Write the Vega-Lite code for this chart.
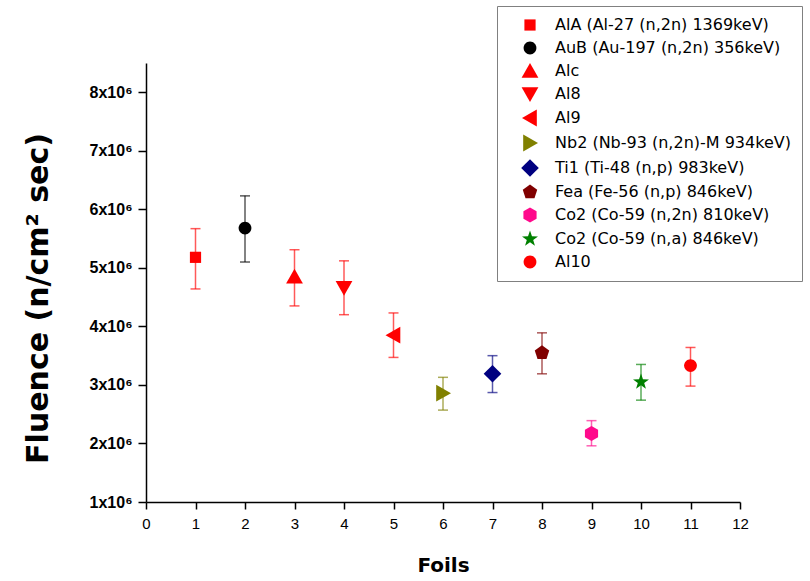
{
  "$schema": "https://vega.github.io/schema/vega-lite/v6.json",
  "autosize": "none",
  "padding": {"left": 146, "top": 63, "right": 70, "bottom": 79},
  "width": 594,
  "height": 439,
  "background": "white",
  "config": {"view": {"stroke": null}},
  "data": {"values": [
    {"foil": 1, "label": "AlA (Al-27 (n,2n) 1369keV)", "fluence": 5180000, "lo": 4640000, "hi": 5670000},
    {"foil": 2, "label": "AuB (Au-197 (n,2n) 356keV)", "fluence": 5680000, "lo": 5100000, "hi": 6230000},
    {"foil": 3, "label": "Alc", "fluence": 4850000, "lo": 4350000, "hi": 5310000},
    {"foil": 4, "label": "Al8", "fluence": 4660000, "lo": 4200000, "hi": 5120000},
    {"foil": 5, "label": "Al9", "fluence": 3850000, "lo": 3470000, "hi": 4230000},
    {"foil": 6, "label": "Nb2 (Nb-93 (n,2n)-M 934keV)", "fluence": 2860000, "lo": 2570000, "hi": 3130000},
    {"foil": 7, "label": "Ti1 (Ti-48 (n,p) 983keV)", "fluence": 3190000, "lo": 2870000, "hi": 3500000},
    {"foil": 8, "label": "Fea (Fe-56 (n,p) 846keV)", "fluence": 3550000, "lo": 3190000, "hi": 3890000},
    {"foil": 9, "label": "Co2 (Co-59 (n,2n) 810keV)", "fluence": 2170000, "lo": 1960000, "hi": 2390000},
    {"foil": 10, "label": "Co2 (Co-59 (n,a) 846keV)", "fluence": 3050000, "lo": 2740000, "hi": 3350000},
    {"foil": 11, "label": "Al10", "fluence": 3330000, "lo": 2980000, "hi": 3640000}
  ]},
  "layer": [
    {
      "mark": {"type": "rule", "strokeWidth": 1.5, "strokeOpacity": 0.65},
      "encoding": {
        "x": {"field": "foil", "type": "quantitative", "title": "Foils"},
        "y": {"field": "lo", "type": "quantitative", "title": "Fluence (n/cm² sec)"},
        "y2": {"field": "hi"},
        "color": {"field": "label", "type": "nominal"}
      }
    },
    {
      "mark": {"type": "tick", "orient": "horizontal", "size": 10, "thickness": 1.5, "strokeOpacity": 0.65, "fillOpacity": 0.65},
      "encoding": {
        "x": {"field": "foil", "type": "quantitative", "title": "Foils"},
        "y": {"field": "lo", "type": "quantitative", "title": "Fluence (n/cm² sec)"},
        "color": {"field": "label", "type": "nominal"}
      }
    },
    {
      "mark": {"type": "tick", "orient": "horizontal", "size": 10, "thickness": 1.5, "strokeOpacity": 0.65, "fillOpacity": 0.65},
      "encoding": {
        "x": {"field": "foil", "type": "quantitative", "title": "Foils"},
        "y": {"field": "hi", "type": "quantitative", "title": "Fluence (n/cm² sec)"},
        "color": {"field": "label", "type": "nominal"}
      }
    },
    {
      "mark": {"type": "point", "filled": true, "opacity": 1, "size": 256, "strokeWidth": 0},
      "encoding": {
        "x": {
          "field": "foil", "type": "quantitative", "title": "Foils",
          "scale": {"domain": [0, 12], "nice": false, "zero": false},
          "axis": {
            "values": [0,0.5,1,1.5,2,2.5,3,3.5,4,4.5,5,5.5,6,6.5,7,7.5,8,8.5,9,9.5,10,10.5,11,11.5,12],
            "labelExpr": "datum.value % 1 === 0 ? datum.value : ''",
            "labelOverlap": false,
            "labelFlush": false,
            "grid": false,
            "domainColor": "black", "domainWidth": 1.5,
            "tickColor": "black", "tickWidth": 1.5,
            "tickSize": {"condition": {"test": "datum.value % 1 !== 0", "value": 4}, "value": 7},
            "labelPadding": 7,
            "labelFont": "Liberation Sans", "labelFontSize": 15, "labelColor": "black",
            "titleFont": "DejaVu Sans", "titleFontSize": 20, "titleFontWeight": "bold", "titleColor": "black",
            "titlePadding": 24
          }
        },
        "y": {
          "field": "fluence", "type": "quantitative", "title": "Fluence (n/cm² sec)",
          "scale": {"domain": [1000000, 8500000], "nice": false, "zero": false},
          "axis": {
            "values": [1000000,1500000,2000000,2500000,3000000,3500000,4000000,4500000,5000000,5500000,6000000,6500000,7000000,7500000,8000000,8500000],
            "labelExpr": "datum.value % 1000000 === 0 ? (datum.value / 1000000) + 'x10⁶' : ''",
            "labelOverlap": false,
            "labelFlush": false,
            "grid": false,
            "domainColor": "black", "domainWidth": 1.5,
            "tickColor": "black", "tickWidth": 1.5,
            "tickSize": {"condition": {"test": "datum.value % 1000000 !== 0", "value": 4}, "value": 8},
            "labelPadding": 6,
            "labelFont": "Liberation Sans", "labelFontSize": 16, "labelFontWeight": "bold", "labelColor": "black",
            "titleFont": "DejaVu Sans", "titleFontSize": 30, "titleFontWeight": "bold", "titleColor": "black",
            "titleAngle": -90, "titleAlign": "center", "titleBaseline": "middle",
            "titleX": -108, "titleY": 235
          }
        },
        "color": {
          "field": "label", "type": "nominal",
          "scale": {
            "domain": ["AlA (Al-27 (n,2n) 1369keV)", "AuB (Au-197 (n,2n) 356keV)", "Alc", "Al8", "Al9", "Nb2 (Nb-93 (n,2n)-M 934keV)", "Ti1 (Ti-48 (n,p) 983keV)", "Fea (Fe-56 (n,p) 846keV)", "Co2 (Co-59 (n,2n) 810keV)", "Co2 (Co-59 (n,a) 846keV)", "Al10"],
            "range": ["#ff0000", "#000000", "#ff0000", "#ff0000", "#ff0000", "#808000", "#000080", "#800000", "#ff0a8c", "#008000", "#ff0000"]
          },
          "legend": {
            "title": null, "orient": "none", "legendX": 351, "legendY": -57,
            "strokeColor": "#808080", "fillColor": "white", "padding": 11,
            "symbolOffset": 14, "labelOffset": 17, "rowPadding": 7,
            "symbolSize": 256, "symbolStrokeWidth": 0, "symbolOpacity": 1,
            "labelFont": "DejaVu Sans", "labelFontSize": 16, "labelColor": "black", "labelLimit": 400,
            "encode": {"symbols": {"update": {"opacity": {"value": 1}, "fillOpacity": {"value": 1}, "strokeOpacity": {"value": 0}}}}
          }
        },
        "shape": {
          "field": "label", "type": "nominal",
          "scale": {
            "domain": ["AlA (Al-27 (n,2n) 1369keV)", "AuB (Au-197 (n,2n) 356keV)", "Alc", "Al8", "Al9", "Nb2 (Nb-93 (n,2n)-M 934keV)", "Ti1 (Ti-48 (n,p) 983keV)", "Fea (Fe-56 (n,p) 846keV)", "Co2 (Co-59 (n,2n) 810keV)", "Co2 (Co-59 (n,a) 846keV)", "Al10"],
            "range": [
              "M-0.7,-0.7H0.7V0.7H-0.7Z",
              "M0.8,0A0.8,0.8 0 1,1 -0.8,0A0.8,0.8 0 1,1 0.8,0Z",
              "M0,-1L1.05,0.85L-1.05,0.85Z",
              "M0,1L1.05,-0.85L-1.05,-0.85Z",
              "M-1,0L0.85,-1.05L0.85,1.05Z",
              "M1,0L-0.85,-1.05L-0.85,1.05Z",
              "M0,-1.1L1.1,0L0,1.1L-1.1,0Z",
              "M0,-0.95L0.903,-0.294L0.559,0.769L-0.559,0.769L-0.903,-0.294Z",
              "M0,-0.95L0.823,-0.475L0.823,0.475L0,0.95L-0.823,0.475L-0.823,-0.475Z",
              "M0,-1.05L0.247,-0.34L0.999,-0.324L0.399,0.13L0.617,0.849L0,0.42L-0.617,0.849L-0.399,0.13L-0.999,-0.324L-0.247,-0.34Z",
              "M0.8,0A0.8,0.8 0 1,1 -0.8,0A0.8,0.8 0 1,1 0.8,0Z"
            ]
          },
          "legend": {
            "title": null, "orient": "none", "legendX": 351, "legendY": -57,
            "strokeColor": "#808080", "fillColor": "white", "padding": 11,
            "symbolOffset": 14, "labelOffset": 17, "rowPadding": 7,
            "symbolSize": 256, "symbolStrokeWidth": 0, "symbolOpacity": 1,
            "labelFont": "DejaVu Sans", "labelFontSize": 16, "labelColor": "black", "labelLimit": 400,
            "encode": {"symbols": {"update": {"opacity": {"value": 1}, "fillOpacity": {"value": 1}, "strokeOpacity": {"value": 0}}}}
          }
        }
      }
    }
  ]
}
